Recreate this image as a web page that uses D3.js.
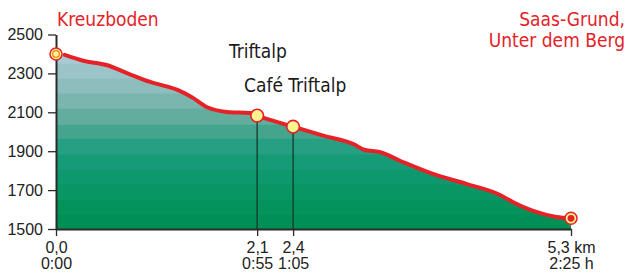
<!DOCTYPE html>
<html>
<head>
<meta charset="utf-8">
<script src="https://cdn.jsdelivr.net/npm/d3@7"></script>
<style>
  body { margin: 0; background: #fff; }
  .tick text { font-family: "Liberation Sans", Arial, sans-serif; font-size: 16px; fill: #222; }
  .lbl { font-family: "DejaVu Sans Condensed", "Liberation Sans Narrow", sans-serif; font-size: 19px; }
</style>
</head>
<body>
<div id="chart"></div>
<script>
// profile: distance (km), elevation (m)
const dist = [0, 0.09, 0.28, 0.52, 0.73, 0.97, 1.25, 1.41, 1.55, 1.76, 2.0, 2.07, 2.23, 2.44, 2.75, 3.06, 3.18, 3.33, 3.54, 3.88, 4.23, 4.57, 4.70, 4.91, 5.15, 5.30];
const elev = [2400, 2395, 2365, 2343, 2302, 2256, 2215, 2174, 2127, 2102, 2096, 2083, 2057, 2026, 1980, 1937, 1906, 1896, 1851, 1783, 1731, 1675, 1639, 1593, 1562, 1555];

// waypoints along the route
const stopNames = ['Triftalp', 'Café Triftalp'];
const stopDist = [2.07, 2.44];
const stopElev = [2083, 2026];

// x ticks
const xTicks = [0, 2.07, 2.44, 5.3];
const kmLabels = ['0,0', '2,1', '2,4', '5,3 km'];
const timeLabels = ['0:00', '0:55', '1:05', '2:25 h'];

// y ticks
const yTicks = [1500, 1700, 1900, 2100, 2300, 2500];

// colour bands of the fill (elevation breaks, top down)
const bandBreaks = [2400, 2352, 2275, 2197, 2119, 2038, 1964, 1883, 1804, 1727, 1649, 1572, 1500];
const bandColors = ['#a6cad3', '#9bc4c9', '#8dbdbd', '#7ab6ae', '#62ad9d', '#45a58c', '#26a083', '#169b77', '#0e986d', '#079664', '#03935b', '#009055'];

const W = 628, H = 273;
const red = '#e52228';

const x = d3.scaleLinear().domain([0, 5.3]).range([56, 571]);
const y = d3.scaleLinear().domain([1500, 2500]).range([229, 34.5]);

const svg = d3.select('#chart').append('svg')
    .attr('width', W)
    .attr('height', H);

const pts = dist.map((d, i) => ({ x: d, y: elev[i] }));

const area = d3.area()
    .x(d => x(d.x))
    .y0(y(1500))
    .y1(d => y(d.y))
    .curve(d3.curveMonotoneX);

const line = d3.line()
    .x(d => x(d.x))
    .y(d => y(d.y))
    .curve(d3.curveMonotoneX);

// clip bands to the profile
svg.append('clipPath').attr('id', 'prof')
  .append('path')
    .attr('d', area(pts));

svg.append('g')
    .attr('clip-path', 'url(#prof)')
  .selectAll('rect')
  .data(bandColors)
  .enter().append('rect')
    .attr('x', x(0))
    .attr('width', x(5.3) - x(0))
    .attr('y', (c, i) => y(bandBreaks[i]))
    .attr('height', (c, i) => y(bandBreaks[i + 1]) - y(bandBreaks[i]) + 0.5)
    .attr('fill', c => c);

// waypoint drop lines
svg.selectAll('line.drop')
  .data(stopDist)
  .enter().append('line')
    .attr('class', 'drop')
    .attr('x1', d => x(d)).attr('x2', d => x(d))
    .attr('y1', (d, i) => y(stopElev[i]))
    .attr('y2', y(1500))
    .attr('stroke', '#17382c')
    .attr('stroke-width', 1.3);

// profile line
svg.append('path')
    .attr('d', line(pts.slice(1)))
    .attr('fill', 'none')
    .attr('stroke', red)
    .attr('stroke-width', 4)
    .attr('stroke-linecap', 'round');

// axes
const yAxis = svg.append('g')
    .attr('transform', 'translate(' + x(0) + ',0)')
    .call(d3.axisLeft(y).tickValues(yTicks).tickSize(8).tickSizeOuter(0).tickPadding(5).tickFormat(d3.format('d')));

const xAxis = svg.append('g')
    .attr('transform', 'translate(0,' + y(1500) + ')')
    .call(d3.axisBottom(x).tickValues(xTicks).tickSize(7).tickSizeOuter(0).tickPadding(6)
        .tickFormat((d, i) => kmLabels[i]));

xAxis.selectAll('.tick')
  .append('text')
    .attr('y', 40)
    .attr('fill', '#222')
    .attr('text-anchor', 'middle')
    .text((d, i) => timeLabels[i]);

[xAxis, yAxis].forEach(a => {
  a.select('.domain').attr('stroke', '#2a2a2a').attr('stroke-width', 2);
  a.selectAll('.tick line').attr('stroke', '#2a2a2a').attr('stroke-width', 1.3);
});

// start marker
const s = pts[0];
svg.append('circle').attr('cx', x(s.x)).attr('cy', y(s.y)).attr('r', 6)
    .attr('fill', '#fff38a').attr('stroke', red).attr('stroke-width', 1.5);
svg.append('circle').attr('cx', x(s.x)).attr('cy', y(s.y)).attr('r', 3.3)
    .attr('fill', '#fff38a').attr('stroke', '#f07a2a').attr('stroke-width', 1.2);

// waypoint markers
svg.selectAll('circle.stop')
  .data(stopDist)
  .enter().append('circle')
    .attr('class', 'stop')
    .attr('cx', d => x(d))
    .attr('cy', (d, i) => y(stopElev[i]))
    .attr('r', 6.3)
    .attr('fill', '#fff38f')
    .attr('stroke', red)
    .attr('stroke-width', 1.6);

// end marker
const e = pts[pts.length - 1];
svg.append('circle').attr('cx', x(e.x)).attr('cy', y(e.y)).attr('r', 6)
    .attr('fill', '#fff38a').attr('stroke', red).attr('stroke-width', 1.5);
svg.append('circle').attr('cx', x(e.x)).attr('cy', y(e.y)).attr('r', 3.4)
    .attr('fill', red);

// place labels
svg.append('text').attr('class', 'lbl')
    .attr('x', 57).attr('y', 26)
    .attr('fill', red)
    .text('Kreuzboden');

svg.append('text').attr('class', 'lbl')
    .attr('x', 625).attr('y', 26)
    .attr('text-anchor', 'end')
    .attr('fill', red)
    .text('Saas-Grund,');

svg.append('text').attr('class', 'lbl')
    .attr('x', 625).attr('y', 47)
    .attr('text-anchor', 'end')
    .attr('fill', red)
    .text('Unter dem Berg');

svg.append('text').attr('class', 'lbl')
    .attr('x', 229).attr('y', 58)
    .attr('fill', '#1a1a1a')
    .text(stopNames[0]);

svg.append('text').attr('class', 'lbl')
    .attr('x', 244).attr('y', 92)
    .attr('fill', '#1a1a1a')
    .text(stopNames[1]);
</script>
</body>
</html>
